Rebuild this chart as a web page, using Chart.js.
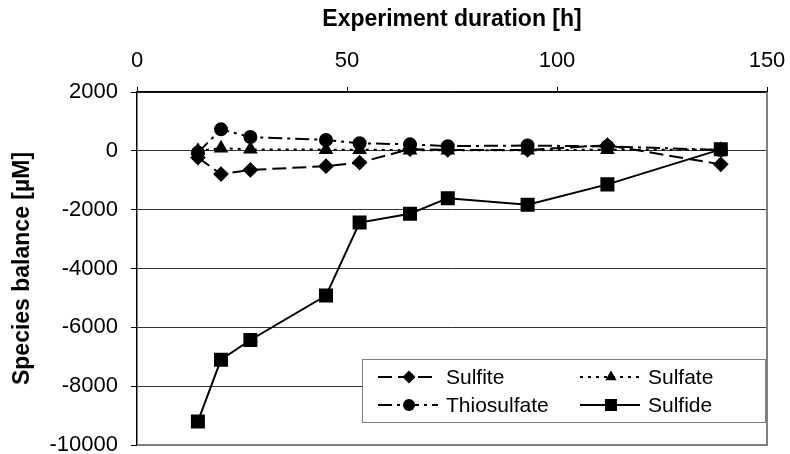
<!DOCTYPE html>
<html>
<head>
    <title>Species balance</title>
    <script src="https://cdn.jsdelivr.net/npm/chart.js"></script>
    <style>
        body { margin: 0; background: #fff; }
        canvas { display: block; }
    </style>
</head>
<body>
    <canvas id="balanceChart" width="790" height="454"></canvas>

    <script>
        // data
        const hours = [14.5, 20, 27, 45, 53, 65, 74, 93, 112, 139];
        const sulfite = [-230, -790, -650, -520, -400, 60, 30, 30, 190, -460];
        const sulfate = [0, 90, 50, 40, 40, 20, 20, 20, 40, 40];
        const thiosulfate = [-60, 730, 470, 370, 260, 220, 160, 180, 150, 30];
        const sulfide = [-9200, -7100, -6430, -4920, -2440, -2140, -1610, -1830, -1140, 50];
        const xTicks = [0, 50, 100, 150];
        const yTicks = [2000, 0, -2000, -4000, -6000, -8000, -10000];

        const FONT = "'Liberation Sans', Arial, sans-serif";
        const noPad = () => ({ left: 0, top: 0, right: 0, bottom: 0 });

        function pts(ys) {
            return hours.map((h, i) => ({ x: h, y: ys[i] }));
        }

        function series(label, ys, dash, style, radius) {
            return {
                label: label,
                data: pts(ys),
                borderColor: '#000',
                backgroundColor: '#000',
                pointBackgroundColor: '#000',
                pointBorderColor: '#000',
                borderWidth: 2,
                borderDash: dash,
                pointStyle: style,
                pointRadius: radius,
                pointHoverRadius: radius,
                fill: false,
                tension: 0
            };
        }

        // marker for the legend
        function marker(ctx, style, r, x, y) {
            ctx.save();
            ctx.fillStyle = '#000';
            ctx.beginPath();
            if (style === 'rectRot') {
                ctx.moveTo(x - r, y); ctx.lineTo(x, y - r);
                ctx.lineTo(x + r, y); ctx.lineTo(x, y + r);
            } else if (style === 'triangle') {
                ctx.moveTo(x, y - r); ctx.lineTo(x + r * 0.87, y + r * 0.5);
                ctx.lineTo(x - r * 0.87, y + r * 0.5);
            } else if (style === 'circle') {
                ctx.arc(x, y, r, 0, Math.PI * 2);
            } else {
                const s = r * Math.SQRT1_2;
                ctx.rect(x - s, y - s, 2 * s, 2 * s);
            }
            ctx.closePath();
            ctx.fill();
            ctx.restore();
        }

        // plot frame + legend box in the lower right
        const frame = {
            id: 'frame',
            beforeDatasetsDraw(chart) {
                const a = chart.chartArea, ctx = chart.ctx;
                ctx.save();
                ctx.strokeStyle = '#808080';
                ctx.lineWidth = 2;
                ctx.beginPath();
                ctx.moveTo(a.right, a.top);
                ctx.lineTo(a.right, a.bottom);
                ctx.lineTo(a.left, a.bottom);
                ctx.stroke();
                ctx.restore();
            },
            afterDatasetsDraw(chart) {
                const ctx = chart.ctx;
                ctx.save();
                ctx.fillStyle = '#fff';
                ctx.fillRect(362, 359, 403, 63);
                ctx.strokeStyle = '#808080';
                ctx.lineWidth = 1;
                ctx.strokeRect(362.5, 359.5, 403, 63);
                const slots = [[378, 377], [580, 377], [378, 405], [580, 405]];
                chart.data.datasets.forEach((ds, i) => {
                    const [x0, y] = slots[i];
                    ctx.strokeStyle = '#000';
                    ctx.lineWidth = 2;
                    ctx.setLineDash(ds.borderDash || []);
                    ctx.beginPath();
                    ctx.moveTo(x0, y);
                    ctx.lineTo(x0 + 60, y);
                    ctx.stroke();
                    ctx.setLineDash([]);
                    marker(ctx, ds.pointStyle, ds.pointRadius, x0 + 31, y);
                    ctx.fillStyle = '#000';
                    ctx.font = '21px ' + FONT;
                    ctx.textAlign = 'left';
                    ctx.textBaseline = 'middle';
                    ctx.fillText(ds.label, x0 + 68, y + 1);
                });
                ctx.restore();
            }
        };

        const ctx = document.getElementById('balanceChart').getContext('2d');
        new Chart(ctx, {
            type: 'line',
            data: {
                datasets: [
                    series('Sulfite', sulfite, [14, 6], 'rectRot', 6.5),
                    series('Sulfate', sulfate, [3, 5], 'triangle', 6.5),
                    series('Thiosulfate', thiosulfate, [14, 5, 3, 5], 'circle', 6),
                    series('Sulfide', sulfide, [], 'rect', 8.5)
                ]
            },
            options: {
                responsive: false,
                animation: false,
                events: [],
                layout: { autoPadding: false, padding: { left: 0, top: 0, right: 23, bottom: 9 } },
                plugins: { legend: { display: false }, tooltip: { enabled: false } },
                scales: {
                    x: {
                        type: 'linear',
                        position: 'top',
                        min: 0,
                        max: 150,
                        afterFit: s => { s.height = 92; s.getPadding = noPad; },
                        afterBuildTicks: s => { s.ticks = xTicks.map(v => ({ value: v })); },
                        ticks: { color: '#000', font: { family: FONT, size: 22 }, padding: 13, maxRotation: 0 },
                        grid: { drawOnChartArea: false, tickLength: 5, color: '#000', lineWidth: 1 },
                        border: { color: '#000', width: 1.5 },
                        title: {
                            display: true,
                            text: 'Experiment duration [h]',
                            color: '#000',
                            font: { family: FONT, size: 23, weight: 'bold' },
                            padding: { top: 6, bottom: 0 }
                        }
                    },
                    y: {
                        min: -10000,
                        max: 2000,
                        afterFit: s => { s.width = 137; s.getPadding = noPad; },
                        afterBuildTicks: s => { s.ticks = yTicks.map(v => ({ value: v })); },
                        ticks: { color: '#000', font: { family: FONT, size: 22 }, padding: 13, callback: v => String(v) },
                        grid: { color: '#333', lineWidth: 1, tickLength: 6, tickColor: '#000' },
                        border: { color: '#000', width: 1.5 },
                        title: {
                            display: true,
                            text: 'Species balance [µM]',
                            color: '#000',
                            font: { family: FONT, size: 23, weight: 'bold' },
                            padding: { top: 9, bottom: 0 }
                        }
                    }
                }
            },
            plugins: [frame]
        });
    </script>
</body>
</html>
